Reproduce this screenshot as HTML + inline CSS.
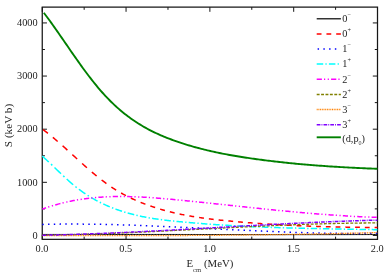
<!DOCTYPE html><html><head><meta charset="utf-8"><style>html,body{margin:0;padding:0;background:#fff}svg{display:block;will-change:transform}.t{font-family:"Liberation Serif",serif}</style></head><body><svg width="389" height="275" viewBox="0 0 389 275">
<g stroke="#161616" stroke-width="1.25" fill="none">
<rect x="42.25" y="7.12" width="335.25" height="232.23"/>
<path d="M42.25,239.35v-4.70M42.25,7.12v4.70M84.16,239.35v-2.70M84.16,7.12v2.70M126.06,239.35v-4.70M126.06,7.12v4.70M167.97,239.35v-2.70M167.97,7.12v2.70M209.88,239.35v-4.70M209.88,7.12v4.70M251.78,239.35v-2.70M251.78,7.12v2.70M293.69,239.35v-4.70M293.69,7.12v4.70M335.59,239.35v-2.70M335.59,7.12v2.70M377.50,239.35v-4.70M377.50,7.12v4.70M42.25,235.45h4.70M377.50,235.45h-4.70M42.25,208.88h2.70M377.50,208.88h-2.70M42.25,182.32h4.70M377.50,182.32h-4.70M42.25,155.75h2.70M377.50,155.75h-2.70M42.25,129.19h4.70M377.50,129.19h-4.70M42.25,102.62h2.70M377.50,102.62h-2.70M42.25,76.06h4.70M377.50,76.06h-4.70M42.25,49.50h2.70M377.50,49.50h-2.70M42.25,22.93h4.70M377.50,22.93h-4.70" stroke-width="1.0"/>
</g>
<g fill="none" stroke-linecap="butt" stroke-linejoin="round">
<path d="M42.30,234.45 L43.80,234.45 L45.30,234.45 L46.80,234.45 L48.30,234.45 L49.80,234.45 L51.30,234.45 L52.80,234.45 L54.30,234.45 L55.80,234.45 L57.30,234.45 L58.80,234.45 L60.30,234.45 L61.80,234.45 L63.30,234.45 L64.80,234.45 L66.30,234.45 L67.80,234.45 L69.30,234.45 L70.80,234.45 L72.30,234.45 L73.80,234.45 L75.30,234.45 L76.80,234.45 L78.30,234.45 L79.80,234.45 L81.30,234.45 L82.80,234.45 L84.30,234.45 L85.80,234.45 L87.30,234.45 L88.80,234.45 L90.30,234.45 L91.80,234.45 L93.30,234.45 L94.80,234.45 L96.30,234.45 L97.80,234.45 L99.30,234.45 L100.80,234.45 L102.30,234.45 L103.80,234.45 L105.30,234.45 L106.80,234.45 L108.30,234.45 L109.80,234.45 L111.30,234.45 L112.80,234.45 L114.30,234.45 L115.80,234.45 L117.30,234.45 L118.80,234.45 L120.30,234.45 L121.80,234.45 L123.30,234.45 L124.80,234.45 L126.30,234.45 L127.80,234.45 L129.30,234.45 L130.80,234.45 L132.30,234.45 L133.80,234.45 L135.30,234.45 L136.80,234.45 L138.30,234.45 L139.80,234.45 L141.30,234.45 L142.80,234.45 L144.30,234.45 L145.80,234.45 L147.30,234.45 L148.80,234.45 L150.30,234.45 L151.80,234.45 L153.30,234.45 L154.80,234.45 L156.30,234.45 L157.80,234.45 L159.30,234.45 L160.80,234.45 L162.30,234.45 L163.80,234.45 L165.30,234.45 L166.80,234.45 L168.30,234.45 L169.80,234.45 L171.30,234.45 L172.80,234.46 L174.30,234.46 L175.80,234.46 L177.30,234.46 L178.80,234.46 L180.30,234.46 L181.80,234.46 L183.30,234.47 L184.80,234.47 L186.30,234.47 L187.80,234.47 L189.30,234.47 L190.80,234.48 L192.30,234.48 L193.80,234.48 L195.30,234.48 L196.80,234.49 L198.30,234.49 L199.80,234.49 L201.30,234.50 L202.80,234.50 L204.30,234.50 L205.80,234.50 L207.30,234.51 L208.80,234.51 L210.30,234.51 L211.80,234.52 L213.30,234.52 L214.80,234.52 L216.30,234.53 L217.80,234.53 L219.30,234.53 L220.80,234.54 L222.30,234.54 L223.80,234.54 L225.30,234.55 L226.80,234.55 L228.30,234.55 L229.80,234.56 L231.30,234.56 L232.80,234.56 L234.30,234.57 L235.80,234.57 L237.30,234.57 L238.80,234.58 L240.30,234.58 L241.80,234.58 L243.30,234.59 L244.80,234.59 L246.30,234.59 L247.80,234.60 L249.30,234.60 L250.80,234.60 L252.30,234.60 L253.80,234.61 L255.30,234.61 L256.80,234.61 L258.30,234.61 L259.80,234.62 L261.30,234.62 L262.80,234.62 L264.30,234.62 L265.80,234.63 L267.30,234.63 L268.80,234.63 L270.30,234.63 L271.80,234.64 L273.30,234.64 L274.80,234.64 L276.30,234.64 L277.80,234.64 L279.30,234.64 L280.80,234.64 L282.30,234.65 L283.80,234.65 L285.30,234.65 L286.80,234.65 L288.30,234.65 L289.80,234.65 L291.30,234.65 L292.80,234.65 L294.30,234.65 L295.80,234.65 L297.30,234.65 L298.80,234.65 L300.30,234.65 L301.80,234.65 L303.30,234.65 L304.80,234.65 L306.30,234.65 L307.80,234.65 L309.30,234.65 L310.80,234.65 L312.30,234.64 L313.80,234.64 L315.30,234.64 L316.80,234.64 L318.30,234.64 L319.80,234.64 L321.30,234.64 L322.80,234.64 L324.30,234.64 L325.80,234.63 L327.30,234.63 L328.80,234.63 L330.30,234.63 L331.80,234.63 L333.30,234.63 L334.80,234.62 L336.30,234.62 L337.80,234.62 L339.30,234.62 L340.80,234.62 L342.30,234.61 L343.80,234.61 L345.30,234.61 L346.80,234.61 L348.30,234.61 L349.80,234.60 L351.30,234.60 L352.80,234.60 L354.30,234.60 L355.80,234.59 L357.30,234.59 L358.80,234.59 L360.30,234.59 L361.80,234.58 L363.30,234.58 L364.80,234.58 L366.30,234.57 L367.80,234.57 L369.30,234.57 L370.80,234.56 L372.30,234.56 L373.80,234.56 L375.30,234.55 L376.80,234.55 L377.40,234.55" stroke="#000000" stroke-width="1.00"/>
<path d="M43.10,129.70 L44.05,130.41 L45.05,131.17 L46.05,131.93 L47.05,132.71 L47.90,133.38M52.85,137.39 L53.80,138.18 L54.80,139.02 L55.80,139.87 L56.80,140.72 L57.65,141.46M62.60,145.79 L63.55,146.64 L64.55,147.53 L65.55,148.43 L66.55,149.33 L67.40,150.10M72.35,154.59 L73.30,155.46 L74.30,156.37 L75.30,157.28 L76.30,158.19 L77.15,158.96M82.10,163.44 L83.05,164.30 L84.05,165.19 L85.05,166.08 L86.05,166.97 L86.90,167.72M91.85,172.02 L92.80,172.83 L93.80,173.67 L94.80,174.51 L95.80,175.34 L96.65,176.04M101.60,179.98 L102.55,180.71 L103.55,181.47 L104.55,182.22 L105.55,182.96 L106.40,183.58M111.35,187.01 L112.30,187.64 L113.30,188.29 L114.30,188.92 L115.30,189.55 L116.15,190.08M121.10,192.99 L122.05,193.52 L123.05,194.07 L124.05,194.61 L125.05,195.14 L125.90,195.58M130.85,198.04 L131.80,198.49 L132.80,198.96 L133.80,199.41 L134.80,199.86 L135.65,200.24M140.60,202.32 L141.55,202.71 L142.55,203.10 L143.55,203.49 L144.55,203.87 L145.40,204.19M150.35,205.98 L151.30,206.30 L152.30,206.64 L153.30,206.98 L154.30,207.30 L155.15,207.58M160.10,209.11 L161.05,209.38 L162.05,209.67 L163.05,209.96 L164.05,210.24 L164.90,210.47M169.85,211.77 L170.80,212.00 L171.80,212.25 L172.80,212.49 L173.80,212.72 L174.65,212.92M179.60,214.01 L180.55,214.21 L181.55,214.42 L182.55,214.62 L183.55,214.82 L184.40,214.98M189.35,215.90 L190.30,216.07 L191.30,216.24 L192.30,216.41 L193.30,216.58 L194.15,216.71M199.10,217.48 L200.05,217.62 L201.05,217.77 L202.05,217.91 L203.05,218.05 L203.90,218.16M208.85,218.81 L209.80,218.93 L210.80,219.05 L211.80,219.17 L212.80,219.29 L213.65,219.39M218.60,219.94 L219.55,220.04 L220.55,220.15 L221.55,220.25 L222.55,220.35 L223.40,220.44M228.35,220.93 L229.30,221.02 L230.30,221.11 L231.30,221.20 L232.30,221.30 L233.15,221.38M238.10,221.82 L239.05,221.90 L240.05,221.99 L241.05,222.07 L242.05,222.15 L242.90,222.23M247.85,222.63 L248.80,222.70 L249.80,222.78 L250.80,222.86 L251.80,222.94 L252.65,223.00M257.60,223.36 L258.55,223.43 L259.55,223.50 L260.55,223.57 L261.55,223.64 L262.40,223.70M267.35,224.03 L268.30,224.09 L269.30,224.15 L270.30,224.21 L271.30,224.28 L272.15,224.33M277.10,224.62 L278.05,224.67 L279.05,224.73 L280.05,224.79 L281.05,224.84 L281.90,224.89M286.85,225.15 L287.80,225.20 L288.80,225.25 L289.80,225.30 L290.80,225.34 L291.65,225.39M296.60,225.61 L297.55,225.66 L298.55,225.70 L299.55,225.74 L300.55,225.79 L301.40,225.82M306.35,226.02 L307.30,226.06 L308.30,226.09 L309.30,226.13 L310.30,226.17 L311.15,226.20M316.10,226.37 L317.05,226.40 L318.05,226.43 L319.05,226.47 L320.05,226.50 L320.90,226.52M325.85,226.67 L326.80,226.69 L327.80,226.72 L328.80,226.75 L329.80,226.77 L330.65,226.80M335.60,226.92 L336.55,226.94 L337.55,226.96 L338.55,226.98 L339.55,227.00 L340.40,227.02M345.35,227.12 L346.30,227.14 L347.30,227.15 L348.30,227.17 L349.30,227.19 L350.15,227.20M355.10,227.28 L356.05,227.29 L357.05,227.30 L358.05,227.32 L359.05,227.33 L359.90,227.34M364.85,227.40 L365.80,227.41 L366.80,227.42 L367.80,227.42 L368.80,227.43 L369.65,227.44M374.60,227.48 L375.55,227.49 L376.55,227.49 L377.40,227.50" stroke="#ff0000" stroke-width="1.50"/>
<path d="M42.30,224.40 L43.30,224.38 L43.75,224.37M48.05,224.28 L49.05,224.27 L49.50,224.26M53.80,224.19 L54.80,224.18 L55.25,224.18M59.55,224.13 L60.55,224.12 L61.00,224.12M65.30,224.09 L66.30,224.09 L66.75,224.09M71.05,224.08 L72.05,224.08 L72.50,224.08M76.80,224.09 L77.80,224.09 L78.25,224.10M82.55,224.12 L83.55,224.13 L84.00,224.13M88.30,224.18 L89.30,224.19 L89.75,224.19M94.05,224.25 L95.05,224.26 L95.50,224.27M99.80,224.34 L100.80,224.36 L101.25,224.37M105.55,224.46 L106.55,224.48 L107.00,224.49M111.30,224.59 L112.30,224.61 L112.75,224.62M117.05,224.73 L118.05,224.76 L118.50,224.77M122.80,224.90 L123.80,224.93 L124.25,224.94M128.55,225.08 L129.30,225.10 L130.00,225.12M134.30,225.27 L135.05,225.29 L135.75,225.32M140.05,225.47 L140.80,225.50 L141.50,225.53M145.80,225.69 L146.55,225.72 L147.25,225.75M151.55,225.92 L152.30,225.95 L153.00,225.98M157.30,226.15 L158.05,226.19 L158.75,226.22M163.05,226.40 L163.80,226.43 L164.50,226.47M168.80,226.66 L169.55,226.69 L170.25,226.72M174.55,226.92 L175.55,226.97 L176.00,226.99M180.30,227.19 L181.30,227.24 L181.75,227.26M186.05,227.46 L187.05,227.51 L187.50,227.53M191.80,227.74 L192.80,227.79 L193.25,227.81M197.55,228.02 L198.55,228.07 L199.00,228.09M203.30,228.31 L204.30,228.36 L204.75,228.38M209.05,228.59 L210.05,228.64 L210.50,228.67M214.80,228.88 L215.80,228.93 L216.25,228.95M220.55,229.16 L221.55,229.21 L222.00,229.24M226.30,229.45 L227.30,229.50 L227.75,229.52M232.05,229.73 L233.05,229.78 L233.50,229.80M237.80,230.01 L238.80,230.06 L239.25,230.08M243.55,230.28 L244.55,230.33 L245.00,230.35M249.30,230.55 L250.30,230.60 L250.75,230.62M255.05,230.82 L256.05,230.86 L256.50,230.88M260.80,231.07 L261.80,231.12 L262.25,231.14M266.55,231.32 L267.55,231.36 L268.00,231.38M272.30,231.56 L273.30,231.60 L273.75,231.62M278.05,231.79 L279.05,231.83 L279.50,231.84M283.80,232.01 L284.80,232.04 L285.25,232.06M289.55,232.21 L290.55,232.25 L291.00,232.26M295.30,232.41 L296.30,232.44 L296.75,232.45M301.05,232.58 L302.05,232.61 L302.50,232.63M306.80,232.75 L307.80,232.78 L308.25,232.79M312.55,232.90 L313.55,232.92 L314.00,232.93M318.30,233.03 L319.30,233.05 L319.75,233.06M324.05,233.14 L325.05,233.16 L325.50,233.17M329.80,233.24 L330.80,233.26 L331.25,233.26M335.55,233.32 L336.55,233.33 L337.00,233.33M341.30,233.37 L342.30,233.38 L342.75,233.38M347.05,233.41 L348.05,233.41 L348.50,233.41M352.80,233.42 L353.80,233.42 L354.25,233.42M358.55,233.41 L359.55,233.40 L360.00,233.40M364.30,233.37 L365.30,233.36 L365.75,233.36M370.05,233.31 L371.05,233.30 L371.50,233.29M375.80,233.22 L376.80,233.20 L377.25,233.20" stroke="#0000ff" stroke-width="1.50"/>
<path d="M42.30,156.17 L43.30,157.05 L44.30,157.94 L45.30,158.85 L46.30,159.76 L47.30,160.68 L48.30,161.61 L48.80,162.07M51.00,164.15 L51.80,164.91 L52.30,165.38M54.50,167.49 L55.30,168.26 L56.30,169.22 L57.30,170.18 L58.30,171.14 L59.30,172.09 L60.30,173.05 L61.00,173.72M63.20,175.80 L64.05,176.59 L64.50,177.01M66.70,179.04 L67.55,179.81 L68.55,180.71 L69.55,181.60 L70.55,182.48 L71.55,183.34 L72.55,184.20 L73.20,184.74M75.40,186.54 L76.30,187.26 L76.70,187.57M78.90,189.26 L79.80,189.94 L80.80,190.67 L81.80,191.39 L82.80,192.10 L83.80,192.79 L84.80,193.47 L85.40,193.87M87.60,195.31 L88.55,195.91 L88.90,196.13M91.10,197.48 L92.05,198.04 L93.05,198.62 L94.05,199.19 L95.05,199.75 L96.05,200.30 L97.05,200.83 L97.60,201.13M99.80,202.26 L100.80,202.76 L101.10,202.90M103.30,203.96 L104.30,204.43 L105.30,204.88 L106.30,205.33 L107.30,205.77 L108.30,206.19 L109.30,206.61 L109.80,206.82M112.00,207.71 L112.80,208.02 L113.30,208.22M115.50,209.04 L116.30,209.34 L117.30,209.69 L118.30,210.04 L119.30,210.39 L120.30,210.72 L121.30,211.05 L122.00,211.28M124.20,211.97 L125.05,212.23 L125.50,212.37M127.70,213.01 L128.55,213.25 L129.55,213.52 L130.55,213.79 L131.55,214.06 L132.55,214.31 L133.55,214.57 L134.20,214.73M136.40,215.26 L137.30,215.46 L137.70,215.56M139.90,216.04 L140.80,216.23 L141.80,216.44 L142.80,216.65 L143.80,216.85 L144.80,217.04 L145.80,217.23 L146.40,217.34M148.60,217.74 L149.55,217.91 L149.90,217.97M152.10,218.33 L153.05,218.48 L154.05,218.64 L155.05,218.79 L156.05,218.94 L157.05,219.09 L158.05,219.23 L158.60,219.31M160.80,219.61 L161.80,219.74 L162.10,219.78M164.30,220.06 L165.30,220.18 L166.30,220.30 L167.30,220.41 L168.30,220.53 L169.30,220.64 L170.30,220.75 L170.80,220.81M173.00,221.04 L173.80,221.12 L174.30,221.18M176.50,221.40 L177.30,221.48 L178.30,221.57 L179.30,221.67 L180.30,221.76 L181.30,221.86 L182.30,221.95 L183.00,222.02M185.20,222.22 L186.05,222.29 L186.50,222.33M188.70,222.53 L189.55,222.60 L190.55,222.69 L191.55,222.78 L192.55,222.86 L193.55,222.94 L194.55,223.03 L195.20,223.08M197.40,223.26 L198.30,223.33 L198.70,223.36M200.90,223.54 L201.80,223.61 L202.80,223.68 L203.80,223.76 L204.80,223.83 L205.80,223.91 L206.80,223.98 L207.40,224.02M209.60,224.18 L210.55,224.25 L210.90,224.27M213.10,224.43 L214.05,224.49 L215.05,224.56 L216.05,224.63 L217.05,224.69 L218.05,224.76 L219.05,224.82 L219.60,224.86M221.80,225.00 L222.55,225.04 L223.10,225.08M225.30,225.21 L226.05,225.26 L227.05,225.32 L228.05,225.37 L229.05,225.43 L230.05,225.49 L231.05,225.55 L231.80,225.59M234.00,225.71 L234.80,225.75 L235.30,225.78M237.50,225.90 L238.30,225.94 L239.30,225.99 L240.30,226.04 L241.30,226.09 L242.30,226.14 L243.30,226.19 L244.00,226.23M246.20,226.33 L247.05,226.37 L247.50,226.40M249.70,226.50 L250.55,226.54 L251.55,226.58 L252.55,226.63 L253.55,226.67 L254.55,226.71 L255.55,226.76 L256.20,226.78M258.40,226.88 L259.30,226.91 L259.70,226.93M261.90,227.02 L262.80,227.05 L263.80,227.09 L264.80,227.13 L265.80,227.17 L266.80,227.21 L267.80,227.24 L268.40,227.27M270.60,227.34 L271.55,227.38 L271.90,227.39M274.10,227.47 L275.05,227.50 L276.05,227.53 L277.05,227.57 L278.05,227.60 L279.05,227.63 L280.05,227.66 L280.60,227.68M282.80,227.75 L283.55,227.77 L284.10,227.79M286.30,227.85 L287.05,227.88 L288.05,227.91 L289.05,227.93 L290.05,227.96 L291.05,227.99 L292.05,228.02 L292.80,228.04M295.00,228.10 L295.80,228.12 L296.30,228.13M298.50,228.19 L299.30,228.21 L300.30,228.24 L301.30,228.26 L302.30,228.29 L303.30,228.31 L304.30,228.33 L305.00,228.35M307.20,228.40 L308.05,228.42 L308.50,228.43M310.70,228.48 L311.55,228.50 L312.55,228.52 L313.55,228.54 L314.55,228.57 L315.55,228.59 L316.55,228.61 L317.20,228.62M319.40,228.67 L320.30,228.69 L320.70,228.69M322.90,228.74 L323.80,228.76 L324.80,228.78 L325.80,228.80 L326.80,228.81 L327.80,228.83 L328.80,228.85 L329.40,228.86M331.60,228.91 L332.55,228.92 L332.90,228.93M335.10,228.97 L336.05,228.99 L337.05,229.00 L338.05,229.02 L339.05,229.04 L340.05,229.06 L341.05,229.08 L341.60,229.09M343.80,229.12 L344.55,229.14 L345.10,229.15M347.30,229.18 L348.05,229.20 L349.05,229.21 L350.05,229.23 L351.05,229.25 L352.05,229.26 L353.05,229.28 L353.80,229.29M356.00,229.33 L356.80,229.34 L357.30,229.35M359.50,229.39 L360.30,229.40 L361.30,229.42 L362.30,229.44 L363.30,229.45 L364.30,229.47 L365.30,229.49 L366.00,229.50M368.20,229.54 L369.05,229.55 L369.50,229.56M371.70,229.60 L372.55,229.61 L373.55,229.63 L374.55,229.65 L375.55,229.66 L376.55,229.68 L377.40,229.70" stroke="#00ffff" stroke-width="1.50"/>
<path d="M42.30,209.12 L43.30,208.75 L44.30,208.40 L45.30,208.05 L46.05,207.79M48.15,207.09 L49.05,206.80 L49.35,206.70M51.85,205.92 L52.80,205.63 L53.05,205.56M55.23,204.92 L56.05,204.69 L57.05,204.41 L58.05,204.13 L59.05,203.87 L60.05,203.61 L60.43,203.51M62.53,202.98 L63.30,202.79 L63.73,202.69M66.23,202.11 L67.05,201.93 L67.43,201.84M69.61,201.38 L70.55,201.18 L71.55,200.98 L72.55,200.79 L73.55,200.60 L74.55,200.41 L74.81,200.37M76.91,199.99 L77.80,199.84 L78.11,199.79M80.61,199.39 L81.55,199.25 L81.81,199.21M83.99,198.90 L84.80,198.79 L85.80,198.66 L86.80,198.53 L87.80,198.40 L88.80,198.29 L89.19,198.24M91.29,198.01 L92.05,197.93 L92.49,197.88M94.99,197.64 L95.80,197.57 L96.19,197.54M98.37,197.36 L99.30,197.29 L100.30,197.21 L101.30,197.15 L102.30,197.08 L103.30,197.02 L103.57,197.00M105.67,196.89 L106.55,196.85 L106.87,196.83M109.37,196.73 L110.30,196.70 L110.57,196.69M112.75,196.62 L113.55,196.60 L114.55,196.58 L115.55,196.56 L116.55,196.55 L117.55,196.53 L117.95,196.53M120.05,196.52 L121.05,196.52 L121.25,196.52M123.75,196.53 L124.55,196.53 L124.95,196.54M127.13,196.57 L128.05,196.58 L129.05,196.60 L130.05,196.63 L131.05,196.65 L132.05,196.68 L132.33,196.69M134.43,196.76 L135.30,196.79 L135.63,196.80M138.13,196.91 L139.05,196.95 L139.33,196.96M141.51,197.07 L142.30,197.11 L143.30,197.16 L144.30,197.21 L145.30,197.27 L146.30,197.33 L146.71,197.36M148.81,197.49 L149.80,197.55 L150.01,197.57M152.51,197.74 L153.30,197.80 L153.71,197.83M155.89,197.99 L156.80,198.06 L157.80,198.14 L158.80,198.21 L159.80,198.30 L160.80,198.38 L161.09,198.40M163.19,198.58 L164.05,198.65 L164.39,198.68M166.89,198.90 L167.80,198.98 L168.09,199.01M170.27,199.21 L171.05,199.28 L172.05,199.37 L173.05,199.47 L174.05,199.56 L175.05,199.66 L175.47,199.70M177.57,199.90 L178.55,200.00 L178.77,200.02M181.27,200.26 L182.05,200.34 L182.47,200.38M184.65,200.60 L185.55,200.69 L186.55,200.79 L187.55,200.89 L188.55,200.99 L189.55,201.09 L189.85,201.12M191.95,201.33 L192.80,201.42 L193.15,201.46M195.65,201.71 L196.55,201.81 L196.85,201.84M199.03,202.06 L199.80,202.14 L200.80,202.25 L201.80,202.35 L202.80,202.45 L203.80,202.56 L204.23,202.60M206.33,202.82 L207.30,202.93 L207.53,202.95M210.03,203.21 L210.80,203.30 L211.23,203.34M213.41,203.57 L214.30,203.67 L215.30,203.77 L216.30,203.88 L217.30,203.99 L218.30,204.09 L218.61,204.13M220.71,204.35 L221.55,204.44 L221.91,204.48M224.41,204.75 L225.30,204.84 L225.61,204.87M227.79,205.11 L228.55,205.19 L229.55,205.30 L230.55,205.40 L231.55,205.51 L232.55,205.62 L232.99,205.66M235.09,205.89 L236.05,205.99 L236.29,206.02M238.79,206.28 L239.55,206.37 L239.99,206.41M242.17,206.64 L243.05,206.74 L244.05,206.84 L245.05,206.95 L246.05,207.06 L247.05,207.16 L247.37,207.20M249.47,207.42 L250.30,207.51 L250.67,207.55M253.17,207.81 L254.05,207.90 L254.37,207.94M256.55,208.16 L257.30,208.24 L258.30,208.35 L259.30,208.45 L260.30,208.56 L261.30,208.66 L261.75,208.71M263.85,208.92 L264.80,209.02 L265.05,209.05M267.55,209.30 L268.30,209.38 L268.75,209.43M270.93,209.65 L271.80,209.73 L272.80,209.84 L273.80,209.94 L274.80,210.04 L275.80,210.14 L276.13,210.17M278.23,210.38 L279.05,210.46 L279.43,210.50M281.93,210.74 L282.80,210.83 L283.13,210.86M285.31,211.07 L286.30,211.16 L287.30,211.26 L288.30,211.36 L289.30,211.45 L290.30,211.55 L290.51,211.57M292.61,211.76 L293.55,211.85 L293.81,211.87M296.31,212.10 L297.30,212.20 L297.51,212.21M299.69,212.41 L300.55,212.49 L301.55,212.58 L302.55,212.67 L303.55,212.76 L304.55,212.84 L304.89,212.87M306.99,213.06 L307.80,213.13 L308.19,213.16M310.69,213.37 L311.55,213.44 L311.89,213.47M314.07,213.65 L315.05,213.73 L316.05,213.81 L317.05,213.90 L318.05,213.98 L319.05,214.06 L319.27,214.07M321.37,214.24 L322.30,214.31 L322.57,214.33M325.07,214.52 L326.05,214.59 L326.27,214.61M328.45,214.77 L329.30,214.83 L330.30,214.91 L331.30,214.98 L332.30,215.05 L333.30,215.12 L333.65,215.14M335.75,215.29 L336.55,215.34 L336.95,215.37M339.45,215.53 L340.30,215.59 L340.65,215.61M342.83,215.75 L343.80,215.81 L344.80,215.87 L345.80,215.93 L346.80,215.99 L347.80,216.05 L348.03,216.06M350.13,216.18 L351.05,216.23 L351.33,216.25M353.83,216.38 L354.80,216.44 L355.03,216.45M357.21,216.56 L358.05,216.60 L359.05,216.65 L360.05,216.70 L361.05,216.75 L362.05,216.79 L362.41,216.81M364.51,216.90 L365.30,216.94 L365.71,216.95M368.21,217.06 L369.05,217.09 L369.41,217.10M371.59,217.19 L372.55,217.22 L373.55,217.26 L374.55,217.29 L375.55,217.32 L376.55,217.36 L376.79,217.36" stroke="#ff00ff" stroke-width="1.50"/>
<path d="M42.30,235.22 L43.30,235.21 L44.30,235.19 L45.20,235.18M46.70,235.16 L47.55,235.15 L48.55,235.14 L49.55,235.12 L49.60,235.12M51.10,235.10 L52.05,235.08 L53.05,235.07 L54.00,235.05M55.50,235.02 L56.30,235.01 L57.30,234.99 L58.30,234.97 L58.40,234.97M59.90,234.94 L60.80,234.92 L61.80,234.90 L62.80,234.88M64.30,234.85 L65.30,234.83 L66.30,234.81 L67.20,234.78M68.70,234.75 L69.55,234.73 L70.55,234.70 L71.55,234.68 L71.60,234.68M73.10,234.64 L74.05,234.62 L75.05,234.59 L76.00,234.57M77.50,234.53 L78.30,234.50 L79.30,234.48 L80.30,234.45 L80.40,234.44M81.90,234.40 L82.80,234.37 L83.80,234.35 L84.80,234.32M86.30,234.27 L87.05,234.25 L88.05,234.22 L89.05,234.18 L89.20,234.18M90.70,234.13 L91.55,234.10 L92.55,234.07 L93.55,234.04 L93.60,234.04M95.10,233.99 L96.05,233.95 L97.05,233.92 L98.00,233.89M99.50,233.83 L100.30,233.81 L101.30,233.77 L102.30,233.74 L102.40,233.73M103.90,233.68 L104.80,233.64 L105.80,233.61 L106.80,233.57M108.30,233.51 L109.05,233.48 L110.05,233.45 L111.05,233.41 L111.20,233.40M112.70,233.34 L113.55,233.31 L114.55,233.27 L115.55,233.23 L115.60,233.23M117.10,233.17 L118.05,233.13 L119.05,233.09 L120.00,233.05M121.50,232.99 L122.30,232.95 L123.30,232.91 L124.30,232.87 L124.40,232.87M125.90,232.80 L126.80,232.76 L127.80,232.72 L128.80,232.68M130.30,232.61 L131.30,232.57 L132.30,232.52 L133.20,232.48M134.70,232.42 L135.55,232.38 L136.55,232.33 L137.55,232.29 L137.60,232.29M139.10,232.22 L140.05,232.18 L141.05,232.13 L142.00,232.09M143.50,232.02 L144.30,231.98 L145.30,231.93 L146.30,231.89 L146.40,231.88M147.90,231.81 L148.80,231.77 L149.80,231.72 L150.80,231.67 L150.80,231.67M152.30,231.60 L153.30,231.55 L154.30,231.51 L155.20,231.46M156.70,231.39 L157.55,231.35 L158.55,231.30 L159.55,231.25 L159.60,231.25M161.10,231.17 L162.05,231.13 L163.05,231.08 L164.00,231.03M165.50,230.96 L166.30,230.92 L167.30,230.87 L168.30,230.82 L168.40,230.81M169.90,230.74 L170.80,230.69 L171.80,230.64 L172.80,230.59 L172.80,230.59M174.30,230.52 L175.30,230.46 L176.30,230.41 L177.20,230.37M178.70,230.29 L179.55,230.25 L180.55,230.20 L181.55,230.15 L181.60,230.14M183.10,230.07 L184.05,230.02 L185.05,229.97 L186.00,229.92M187.50,229.84 L188.30,229.80 L189.30,229.75 L190.30,229.70 L190.40,229.69M191.90,229.61 L192.80,229.57 L193.80,229.52 L194.80,229.46 L194.80,229.46M196.30,229.39 L197.30,229.34 L198.30,229.28 L199.20,229.24M200.70,229.16 L201.55,229.12 L202.55,229.06 L203.55,229.01 L203.60,229.01M205.10,228.93 L206.05,228.88 L207.05,228.83 L208.00,228.78M209.50,228.70 L210.30,228.66 L211.30,228.61 L212.30,228.56 L212.40,228.55M213.90,228.48 L214.80,228.43 L215.80,228.38 L216.80,228.33 L216.80,228.33M218.30,228.25 L219.30,228.20 L220.30,228.15 L221.20,228.10M222.70,228.03 L223.55,227.98 L224.55,227.93 L225.55,227.88 L225.60,227.88M227.10,227.80 L228.05,227.75 L229.05,227.70 L230.00,227.66M231.50,227.58 L232.30,227.54 L233.30,227.49 L234.30,227.44 L234.40,227.43M235.90,227.36 L236.80,227.32 L237.80,227.27 L238.80,227.22 L238.80,227.22M240.30,227.14 L241.30,227.09 L242.30,227.04 L243.20,227.00M244.70,226.93 L245.55,226.88 L246.55,226.84 L247.55,226.79 L247.60,226.78M249.10,226.71 L250.05,226.67 L251.05,226.62 L252.00,226.57M253.50,226.50 L254.30,226.46 L255.30,226.42 L256.30,226.37 L256.40,226.37M257.90,226.30 L258.80,226.25 L259.80,226.21 L260.80,226.16 L260.80,226.16M262.30,226.09 L263.30,226.05 L264.30,226.00 L265.20,225.96M266.70,225.89 L267.55,225.85 L268.55,225.81 L269.55,225.76 L269.60,225.76M271.10,225.70 L272.05,225.65 L273.05,225.61 L274.00,225.57M275.50,225.50 L276.30,225.47 L277.30,225.43 L278.30,225.39 L278.40,225.38M279.90,225.32 L280.80,225.28 L281.80,225.24 L282.80,225.20 L282.80,225.20M284.30,225.14 L285.30,225.10 L286.30,225.05 L287.20,225.02M288.70,224.96 L289.55,224.93 L290.55,224.89 L291.55,224.85 L291.60,224.85M293.10,224.79 L294.05,224.75 L295.05,224.71 L296.00,224.68M297.50,224.62 L298.30,224.59 L299.30,224.56 L300.30,224.52 L300.40,224.52M301.90,224.46 L302.80,224.43 L303.80,224.39 L304.80,224.36 L304.80,224.36M306.30,224.31 L307.30,224.27 L308.30,224.24 L309.20,224.21M310.70,224.16 L311.55,224.13 L312.55,224.10 L313.55,224.07 L313.60,224.07M315.10,224.02 L316.05,223.99 L317.05,223.96 L318.00,223.93M319.50,223.89 L320.30,223.86 L321.30,223.83 L322.30,223.81 L322.40,223.80M323.90,223.76 L324.80,223.74 L325.80,223.71 L326.80,223.68 L326.80,223.68M328.30,223.64 L329.30,223.62 L330.30,223.59 L331.20,223.57M332.70,223.53 L333.55,223.51 L334.55,223.49 L335.55,223.46 L335.60,223.46M337.10,223.43 L338.05,223.41 L339.05,223.39 L340.00,223.37M341.50,223.33 L342.30,223.32 L343.30,223.30 L344.30,223.28 L344.40,223.28M345.90,223.25 L346.80,223.23 L347.80,223.21 L348.80,223.20M350.30,223.17 L351.05,223.16 L352.05,223.14 L353.05,223.13 L353.20,223.13M354.70,223.10 L355.55,223.09 L356.55,223.08 L357.55,223.07 L357.60,223.06M359.10,223.05 L360.05,223.03 L361.05,223.02 L362.00,223.01M363.50,223.00 L364.30,222.99 L365.30,222.98 L366.30,222.97 L366.40,222.97M367.90,222.96 L368.80,222.95 L369.80,222.95 L370.80,222.94M372.30,222.93 L373.05,222.93 L374.05,222.92 L375.05,222.92 L375.20,222.92M376.70,222.91 L377.40,222.91" stroke="#808000" stroke-width="1.30"/>
<path d="M42.30,235.60 L43.30,235.60M44.00,235.60 L44.80,235.61 L45.00,235.61M45.70,235.61 L46.55,235.61 L46.70,235.61M47.40,235.61 L48.30,235.62 L48.40,235.62M49.10,235.62 L50.05,235.62 L50.10,235.62M50.80,235.62 L51.80,235.63M52.50,235.63 L53.30,235.63 L53.50,235.63M54.20,235.63 L55.05,235.63 L55.20,235.63M55.90,235.64 L56.80,235.64 L56.90,235.64M57.60,235.64 L58.55,235.64 L58.60,235.64M59.30,235.64 L60.05,235.65 L60.30,235.65M61.00,235.65 L61.80,235.65 L62.00,235.65M62.70,235.65 L63.55,235.65 L63.70,235.65M64.40,235.66 L65.30,235.66 L65.40,235.66M66.10,235.66 L67.05,235.66 L67.10,235.66M67.80,235.66 L68.55,235.66 L68.80,235.66M69.50,235.67 L70.30,235.67 L70.50,235.67M71.20,235.67 L72.05,235.67 L72.20,235.67M72.90,235.67 L73.80,235.67 L73.90,235.67M74.60,235.67 L75.55,235.68 L75.60,235.68M76.30,235.68 L77.05,235.68 L77.30,235.68M78.00,235.68 L78.80,235.68 L79.00,235.68M79.70,235.68 L80.55,235.68 L80.70,235.68M81.40,235.68 L82.30,235.69 L82.40,235.69M83.10,235.69 L84.05,235.69 L84.10,235.69M84.80,235.69 L85.80,235.69 L85.80,235.69M86.50,235.69 L87.30,235.69 L87.50,235.69M88.20,235.69 L89.05,235.69 L89.20,235.69M89.90,235.69 L90.80,235.69 L90.90,235.69M91.60,235.69 L92.55,235.70 L92.60,235.70M93.30,235.70 L94.30,235.70 L94.30,235.70M95.00,235.70 L95.80,235.70 L96.00,235.70M96.70,235.70 L97.55,235.70 L97.70,235.70M98.40,235.70 L99.30,235.70 L99.40,235.70M100.10,235.70 L101.05,235.70 L101.10,235.70M101.80,235.70 L102.80,235.70 L102.80,235.70M103.50,235.70 L104.30,235.70 L104.50,235.70M105.20,235.70 L106.05,235.70 L106.20,235.70M106.90,235.70 L107.80,235.70 L107.90,235.70M108.60,235.70 L109.55,235.70 L109.60,235.70M110.30,235.70 L111.30,235.70 L111.30,235.70M112.00,235.70 L112.80,235.70 L113.00,235.70M113.70,235.70 L114.55,235.70 L114.70,235.70M115.40,235.70 L116.30,235.70 L116.40,235.70M117.10,235.70 L118.05,235.70 L118.10,235.69M118.80,235.69 L119.80,235.69 L119.80,235.69M120.50,235.69 L121.30,235.69 L121.50,235.69M122.20,235.69 L123.05,235.69 L123.20,235.69M123.90,235.69 L124.80,235.69 L124.90,235.69M125.60,235.69 L126.55,235.69 L126.60,235.69M127.30,235.69 L128.30,235.68 L128.30,235.68M129.00,235.68 L129.80,235.68 L130.00,235.68M130.70,235.68 L131.55,235.68 L131.70,235.68M132.40,235.68 L133.30,235.68 L133.40,235.68M134.10,235.67 L135.05,235.67 L135.10,235.67M135.80,235.67 L136.80,235.67 L136.80,235.67M137.50,235.67 L138.30,235.67 L138.50,235.67M139.20,235.66 L140.05,235.66 L140.20,235.66M140.90,235.66 L141.80,235.66 L141.90,235.66M142.60,235.66 L143.55,235.65 L143.60,235.65M144.30,235.65 L145.30,235.65 L145.30,235.65M146.00,235.65 L146.80,235.65 L147.00,235.65M147.70,235.64 L148.55,235.64 L148.70,235.64M149.40,235.64 L150.30,235.64 L150.40,235.64M151.10,235.63 L152.05,235.63 L152.10,235.63M152.80,235.63 L153.80,235.63 L153.80,235.63M154.50,235.62 L155.30,235.62 L155.50,235.62M156.20,235.62 L157.05,235.62 L157.20,235.62M157.90,235.61 L158.80,235.61 L158.90,235.61M159.60,235.61 L160.55,235.60 L160.60,235.60M161.30,235.60 L162.30,235.60 L162.30,235.60M163.00,235.59 L163.80,235.59 L164.00,235.59M164.70,235.59 L165.55,235.58 L165.70,235.58M166.40,235.58 L167.30,235.58 L167.40,235.58M168.10,235.57 L169.05,235.57 L169.10,235.57M169.80,235.57 L170.80,235.56 L170.80,235.56M171.50,235.56 L172.30,235.56 L172.50,235.55M173.20,235.55 L174.05,235.55 L174.20,235.55M174.90,235.54 L175.80,235.54 L175.90,235.54M176.60,235.54 L177.55,235.53 L177.60,235.53M178.30,235.53 L179.30,235.52 L179.30,235.52M180.00,235.52 L180.80,235.51 L181.00,235.51M181.70,235.51 L182.55,235.51 L182.70,235.50M183.40,235.50 L184.30,235.50 L184.40,235.50M185.10,235.49 L186.05,235.49 L186.10,235.49M186.80,235.48 L187.80,235.48 L187.80,235.48M188.50,235.47 L189.30,235.47 L189.50,235.47M190.20,235.46 L191.05,235.46 L191.20,235.46M191.90,235.45 L192.80,235.45 L192.90,235.45M193.60,235.44 L194.55,235.44 L194.60,235.44M195.30,235.43 L196.05,235.43 L196.30,235.42M197.00,235.42 L197.80,235.41 L198.00,235.41M198.70,235.41 L199.55,235.40 L199.70,235.40M200.40,235.40 L201.30,235.39 L201.40,235.39M202.10,235.39 L203.05,235.38 L203.10,235.38M203.80,235.37 L204.55,235.37 L204.80,235.37M205.50,235.36 L206.30,235.36 L206.50,235.35M207.20,235.35 L208.05,235.34 L208.20,235.34M208.90,235.34 L209.80,235.33 L209.90,235.33M210.60,235.32 L211.55,235.32 L211.60,235.32M212.30,235.31 L213.05,235.30 L213.30,235.30M214.00,235.30 L214.80,235.29 L215.00,235.29M215.70,235.28 L216.55,235.28 L216.70,235.27M217.40,235.27 L218.30,235.26 L218.40,235.26M219.10,235.25 L220.05,235.25 L220.10,235.25M220.80,235.24 L221.55,235.23 L221.80,235.23M222.50,235.23 L223.30,235.22 L223.50,235.22M224.20,235.21 L225.05,235.20 L225.20,235.20M225.90,235.20 L226.80,235.19 L226.90,235.19M227.60,235.18 L228.55,235.17 L228.60,235.17M229.30,235.16 L230.05,235.16 L230.30,235.15M231.00,235.15 L231.80,235.14 L232.00,235.14M232.70,235.13 L233.55,235.12 L233.70,235.12M234.40,235.11 L235.30,235.11 L235.40,235.11M236.10,235.10 L237.05,235.09 L237.10,235.09M237.80,235.08 L238.55,235.07 L238.80,235.07M239.50,235.06 L240.30,235.06 L240.50,235.05M241.20,235.05 L242.05,235.04 L242.20,235.04M242.90,235.03 L243.80,235.02 L243.90,235.02M244.60,235.01 L245.55,235.00 L245.60,235.00M246.30,234.99 L247.05,234.98 L247.30,234.98M248.00,234.97 L248.80,234.96 L249.00,234.96M249.70,234.95 L250.55,234.94 L250.70,234.94M251.40,234.93 L252.30,234.92 L252.40,234.92M253.10,234.91 L254.05,234.90 L254.10,234.90M254.80,234.89 L255.55,234.88 L255.80,234.88M256.50,234.87 L257.30,234.86 L257.50,234.86M258.20,234.85 L259.05,234.84 L259.20,234.84M259.90,234.83 L260.80,234.82 L260.90,234.82M261.60,234.81 L262.55,234.80 L262.60,234.80M263.30,234.79 L264.05,234.78 L264.30,234.78M265.00,234.77 L265.80,234.76 L266.00,234.75M266.70,234.75 L267.55,234.73 L267.70,234.73M268.40,234.72 L269.30,234.71 L269.40,234.71M270.10,234.70 L271.05,234.69 L271.10,234.69M271.80,234.68 L272.55,234.67 L272.80,234.66M273.50,234.65 L274.30,234.64 L274.50,234.64M275.20,234.63 L276.05,234.62 L276.20,234.62M276.90,234.61 L277.80,234.59 L277.90,234.59M278.60,234.58 L279.55,234.57 L279.60,234.57M280.30,234.56 L281.05,234.55 L281.30,234.54M282.00,234.53 L282.80,234.52 L283.00,234.52M283.70,234.51 L284.55,234.50 L284.70,234.49M285.40,234.48 L286.30,234.47 L286.40,234.47M287.10,234.46 L288.05,234.44 L288.10,234.44M288.80,234.43 L289.55,234.42 L289.80,234.42M290.50,234.40 L291.30,234.39 L291.50,234.39M292.20,234.38 L293.05,234.36 L293.20,234.36M293.90,234.35 L294.80,234.34 L294.90,234.33M295.60,234.32 L296.55,234.31 L296.60,234.31M297.30,234.30 L298.05,234.28 L298.30,234.28M299.00,234.27 L299.80,234.25 L300.00,234.25M300.70,234.24 L301.55,234.23 L301.70,234.22M302.40,234.21 L303.30,234.20 L303.40,234.19M304.10,234.18 L305.05,234.17 L305.10,234.16M305.80,234.15 L306.55,234.14 L306.80,234.14M307.50,234.12 L308.30,234.11 L308.50,234.11M309.20,234.09 L310.05,234.08 L310.20,234.08M310.90,234.06 L311.80,234.05 L311.90,234.04M312.60,234.03 L313.55,234.01 L313.60,234.01M314.30,234.00 L315.05,233.99 L315.30,233.98M316.00,233.97 L316.80,233.95 L317.00,233.95M317.70,233.94 L318.55,233.92 L318.70,233.92M319.40,233.91 L320.30,233.89 L320.40,233.89M321.10,233.87 L322.05,233.86 L322.10,233.85M322.80,233.84 L323.55,233.83 L323.80,233.82M324.50,233.81 L325.30,233.79 L325.50,233.79M326.20,233.77 L327.05,233.76 L327.20,233.75M327.90,233.74 L328.80,233.72 L328.90,233.72M329.60,233.71 L330.55,233.69 L330.60,233.69M331.30,233.67 L332.05,233.66 L332.30,233.65M333.00,233.64 L333.80,233.62 L334.00,233.62M334.70,233.60 L335.55,233.58 L335.70,233.58M336.40,233.57 L337.30,233.55 L337.40,233.54M338.10,233.53 L339.05,233.51 L339.10,233.51M339.80,233.49 L340.55,233.48 L340.80,233.47M341.50,233.46 L342.30,233.44 L342.50,233.44M343.20,233.42 L344.05,233.40 L344.20,233.40M344.90,233.38 L345.80,233.36 L345.90,233.36M346.60,233.35 L347.55,233.32 L347.60,233.32M348.30,233.31 L349.05,233.29 L349.30,233.28M350.00,233.27 L350.80,233.25 L351.00,233.25M351.70,233.23 L352.55,233.21 L352.70,233.21M353.40,233.19 L354.30,233.17 L354.40,233.17M355.10,233.15 L356.05,233.13 L356.10,233.13M356.80,233.11 L357.55,233.09 L357.80,233.09M358.50,233.07 L359.30,233.05 L359.50,233.05M360.20,233.03 L361.05,233.01 L361.20,233.01M361.90,232.99 L362.80,232.97 L362.90,232.96M363.60,232.95 L364.55,232.92 L364.60,232.92M365.30,232.91 L366.05,232.89 L366.30,232.88M367.00,232.86 L367.80,232.84 L368.00,232.84M368.70,232.82 L369.55,232.80 L369.70,232.80M370.40,232.78 L371.30,232.75 L371.40,232.75M372.10,232.73 L373.05,232.71 L373.10,232.71M373.80,232.69 L374.55,232.67 L374.80,232.66M375.50,232.65 L376.30,232.63 L376.50,232.62M377.20,232.60 L377.30,232.60 L377.40,232.60" stroke="#ff8000" stroke-width="1.30"/>
<path d="M42.30,235.22 L43.30,235.20 L44.30,235.18 L45.30,235.16 L46.00,235.14M47.10,235.12 L48.00,235.10M49.10,235.08 L50.05,235.06 L51.05,235.04 L52.05,235.01 L52.80,235.00M53.90,234.97 L54.80,234.95 L54.80,234.95M55.90,234.92 L56.80,234.90 L57.80,234.88 L58.80,234.85 L59.60,234.83M60.70,234.80 L61.55,234.78 L61.60,234.78M62.70,234.75 L63.55,234.72 L64.55,234.70 L65.55,234.67 L66.40,234.64M67.50,234.61 L68.30,234.59 L68.40,234.59M69.50,234.55 L70.30,234.53 L71.30,234.50 L72.30,234.47 L73.20,234.44M74.30,234.41 L75.20,234.38M76.30,234.34 L77.30,234.31 L78.30,234.28 L79.30,234.25 L80.00,234.22M81.10,234.19 L82.00,234.16M83.10,234.12 L84.05,234.09 L85.05,234.05 L86.05,234.02 L86.80,233.99M87.90,233.95 L88.80,233.92M89.90,233.88 L90.80,233.84 L91.80,233.81 L92.80,233.77 L93.60,233.74M94.70,233.70 L95.55,233.67 L95.60,233.66M96.70,233.62 L97.55,233.59 L98.55,233.55 L99.55,233.51 L100.40,233.48M101.50,233.43 L102.30,233.40 L102.40,233.40M103.50,233.35 L104.30,233.32 L105.30,233.28 L106.30,233.24 L107.20,233.20M108.30,233.15 L109.05,233.12 L109.20,233.12M110.30,233.07 L111.05,233.04 L112.05,233.00 L113.05,232.95 L114.00,232.91M115.10,232.86 L116.00,232.82M117.10,232.78 L118.05,232.73 L119.05,232.69 L120.05,232.64 L120.80,232.61M121.90,232.56 L122.80,232.52M123.90,232.47 L124.80,232.43 L125.80,232.38 L126.80,232.34 L127.60,232.30M128.70,232.25 L129.55,232.21 L129.60,232.20M130.70,232.15 L131.55,232.11 L132.55,232.06 L133.55,232.02 L134.40,231.98M135.50,231.92 L136.30,231.88 L136.40,231.88M137.50,231.83 L138.30,231.79 L139.30,231.74 L140.30,231.69 L141.20,231.64M142.30,231.59 L143.05,231.55 L143.20,231.54M144.30,231.49 L145.05,231.45 L146.05,231.40 L147.05,231.35 L148.00,231.30M149.10,231.25 L150.00,231.20M151.10,231.15 L152.05,231.10 L153.05,231.05 L154.05,230.99 L154.80,230.96M155.90,230.90 L156.80,230.85M157.90,230.79 L158.80,230.75 L159.80,230.69 L160.80,230.64 L161.60,230.60M162.70,230.54 L163.55,230.50 L163.60,230.49M164.70,230.44 L165.55,230.39 L166.55,230.34 L167.55,230.28 L168.40,230.24M169.50,230.18 L170.30,230.14 L170.40,230.13M171.50,230.07 L172.30,230.03 L173.30,229.97 L174.30,229.92 L175.20,229.87M176.30,229.81 L177.05,229.77 L177.20,229.76M178.30,229.70 L179.05,229.66 L180.05,229.60 L181.05,229.55 L182.00,229.50M183.10,229.44 L184.00,229.39M185.10,229.33 L186.05,229.27 L187.05,229.22 L188.05,229.16 L188.80,229.12M189.90,229.06 L190.80,229.01M191.90,228.95 L192.80,228.90 L193.80,228.84 L194.80,228.79 L195.60,228.74M196.70,228.68 L197.55,228.63 L197.60,228.63M198.70,228.57 L199.55,228.52 L200.55,228.46 L201.55,228.41 L202.40,228.36M203.50,228.30 L204.30,228.25 L204.40,228.25M205.50,228.18 L206.30,228.14 L207.30,228.08 L208.30,228.03 L209.20,227.97M210.30,227.91 L211.20,227.86M212.30,227.80 L213.30,227.74 L214.30,227.69 L215.30,227.63 L216.00,227.59M217.10,227.53 L218.00,227.48M219.10,227.41 L220.05,227.36 L221.05,227.30 L222.05,227.25 L222.80,227.20M223.90,227.14 L224.80,227.09 L224.80,227.09M225.90,227.03 L226.80,226.98 L227.80,226.92 L228.80,226.86 L229.60,226.82M230.70,226.76 L231.55,226.71 L231.60,226.71M232.70,226.64 L233.55,226.60 L234.55,226.54 L235.55,226.48 L236.40,226.44M237.50,226.37 L238.30,226.33 L238.40,226.32M239.50,226.26 L240.30,226.22 L241.30,226.16 L242.30,226.11 L243.20,226.06M244.30,225.99 L245.20,225.94M246.30,225.88 L247.30,225.83 L248.30,225.77 L249.30,225.72 L250.00,225.68M251.10,225.62 L252.00,225.57M253.10,225.51 L254.05,225.45 L255.05,225.40 L256.05,225.34 L256.80,225.30M257.90,225.24 L258.80,225.19 L258.80,225.19M259.90,225.13 L260.80,225.08 L261.80,225.03 L262.80,224.97 L263.60,224.93M264.70,224.87 L265.55,224.83 L265.60,224.82M266.70,224.76 L267.55,224.72 L268.55,224.67 L269.55,224.61 L270.40,224.57M271.50,224.51 L272.30,224.47 L272.40,224.46M273.50,224.40 L274.30,224.36 L275.30,224.31 L276.30,224.25 L277.20,224.21M278.30,224.15 L279.20,224.10M280.30,224.05 L281.30,223.99 L282.30,223.94 L283.30,223.89 L284.00,223.85M285.10,223.80 L286.00,223.75M287.10,223.70 L288.05,223.65 L289.05,223.60 L290.05,223.55 L290.80,223.51M291.90,223.45 L292.80,223.41 L292.80,223.41M293.90,223.36 L294.80,223.31 L295.80,223.26 L296.80,223.21 L297.60,223.17M298.70,223.12 L299.55,223.08 L299.60,223.08M300.70,223.02 L301.55,222.98 L302.55,222.93 L303.55,222.89 L304.40,222.85M305.50,222.79 L306.30,222.76 L306.40,222.75M307.50,222.70 L308.30,222.66 L309.30,222.62 L310.30,222.57 L311.20,222.53M312.30,222.48 L313.20,222.44M314.30,222.39 L315.30,222.34 L316.30,222.30 L317.30,222.25 L318.00,222.22M319.10,222.17 L320.00,222.13M321.10,222.08 L322.05,222.04 L323.05,222.00 L324.05,221.96 L324.80,221.92M325.90,221.88 L326.80,221.84 L326.80,221.84M327.90,221.79 L328.80,221.76 L329.80,221.71 L330.80,221.67 L331.60,221.64M332.70,221.60 L333.55,221.56 L333.60,221.56M334.70,221.52 L335.55,221.48 L336.55,221.44 L337.55,221.40 L338.40,221.37M339.50,221.33 L340.30,221.30 L340.40,221.29M341.50,221.25 L342.30,221.22 L343.30,221.18 L344.30,221.15 L345.20,221.11M346.30,221.07 L347.20,221.04M348.30,221.00 L349.30,220.96 L350.30,220.93 L351.30,220.89 L352.00,220.87M353.10,220.83 L354.00,220.80M355.10,220.76 L356.05,220.73 L357.05,220.70 L358.05,220.67 L358.80,220.64M359.90,220.61 L360.80,220.58 L360.80,220.58M361.90,220.54 L362.80,220.52 L363.80,220.49 L364.80,220.45 L365.60,220.43M366.70,220.40 L367.55,220.37 L367.60,220.37M368.70,220.34 L369.55,220.32 L370.55,220.29 L371.55,220.26 L372.40,220.24M373.50,220.21 L374.30,220.18 L374.40,220.18M375.50,220.15 L376.30,220.13 L377.30,220.11 L377.40,220.10" stroke="#8000ff" stroke-width="1.50"/>
<path d="M43.80,12.77 L45.30,14.73 L46.80,16.73 L48.30,18.76 L49.80,20.80 L51.30,22.88 L52.80,24.97 L54.30,27.08 L55.80,29.21 L57.30,31.35 L58.80,33.50 L60.30,35.67 L61.80,37.84 L63.30,40.02 L64.80,42.20 L66.30,44.39 L67.80,46.57 L69.30,48.75 L70.80,50.93 L72.30,53.10 L73.80,55.26 L75.30,57.41 L76.80,59.55 L78.30,61.67 L79.80,63.78 L81.30,65.87 L82.80,67.94 L84.30,69.99 L85.80,72.01 L87.30,74.01 L88.80,75.99 L90.30,77.94 L91.80,79.87 L93.30,81.77 L94.80,83.64 L96.30,85.47 L97.80,87.28 L99.30,89.06 L100.80,90.80 L102.30,92.50 L103.80,94.17 L105.30,95.80 L106.80,97.40 L108.30,98.96 L109.80,100.48 L111.30,101.97 L112.80,103.42 L114.30,104.84 L115.80,106.23 L117.30,107.59 L118.80,108.91 L120.30,110.20 L121.80,111.46 L123.30,112.69 L124.80,113.89 L126.30,115.07 L127.80,116.21 L129.30,117.33 L130.80,118.41 L132.30,119.47 L133.80,120.51 L135.30,121.52 L136.80,122.50 L138.30,123.46 L139.80,124.40 L141.30,125.31 L142.80,126.20 L144.30,127.06 L145.80,127.91 L147.30,128.73 L148.80,129.54 L150.30,130.32 L151.80,131.08 L153.30,131.83 L154.80,132.55 L156.30,133.26 L157.80,133.96 L159.30,134.63 L160.80,135.29 L162.30,135.93 L163.80,136.56 L165.30,137.18 L166.80,137.78 L168.30,138.37 L169.80,138.94 L171.30,139.51 L172.80,140.06 L174.30,140.60 L175.80,141.13 L177.30,141.65 L178.80,142.17 L180.30,142.67 L181.80,143.16 L183.30,143.65 L184.80,144.13 L186.30,144.59 L187.80,145.05 L189.30,145.50 L190.80,145.95 L192.30,146.38 L193.80,146.81 L195.30,147.22 L196.80,147.64 L198.30,148.04 L199.80,148.43 L201.30,148.82 L202.80,149.20 L204.30,149.58 L205.80,149.94 L207.30,150.30 L208.80,150.66 L210.30,151.01 L211.80,151.35 L213.30,151.68 L214.80,152.01 L216.30,152.33 L217.80,152.65 L219.30,152.96 L220.80,153.26 L222.30,153.56 L223.80,153.85 L225.30,154.14 L226.80,154.42 L228.30,154.70 L229.80,154.97 L231.30,155.24 L232.80,155.51 L234.30,155.76 L235.80,156.02 L237.30,156.27 L238.80,156.52 L240.30,156.76 L241.80,157.00 L243.30,157.23 L244.80,157.46 L246.30,157.69 L247.80,157.91 L249.30,158.13 L250.80,158.35 L252.30,158.57 L253.80,158.78 L255.30,158.99 L256.80,159.19 L258.30,159.40 L259.80,159.60 L261.30,159.80 L262.80,159.99 L264.30,160.19 L265.80,160.38 L267.30,160.57 L268.80,160.75 L270.30,160.93 L271.80,161.11 L273.30,161.29 L274.80,161.47 L276.30,161.64 L277.80,161.81 L279.30,161.98 L280.80,162.15 L282.30,162.31 L283.80,162.47 L285.30,162.63 L286.80,162.79 L288.30,162.94 L289.80,163.10 L291.30,163.25 L292.80,163.39 L294.30,163.54 L295.80,163.68 L297.30,163.83 L298.80,163.96 L300.30,164.10 L301.80,164.24 L303.30,164.37 L304.80,164.50 L306.30,164.63 L307.80,164.76 L309.30,164.88 L310.80,165.00 L312.30,165.13 L313.80,165.25 L315.30,165.36 L316.80,165.48 L318.30,165.59 L319.80,165.70 L321.30,165.81 L322.80,165.92 L324.30,166.03 L325.80,166.13 L327.30,166.23 L328.80,166.34 L330.30,166.44 L331.80,166.53 L333.30,166.63 L334.80,166.72 L336.30,166.82 L337.80,166.91 L339.30,167.00 L340.80,167.08 L342.30,167.17 L343.80,167.26 L345.30,167.34 L346.80,167.42 L348.30,167.50 L349.80,167.58 L351.30,167.66 L352.80,167.74 L354.30,167.81 L355.80,167.88 L357.30,167.96 L358.80,168.03 L360.30,168.10 L361.80,168.17 L363.30,168.23 L364.80,168.30 L366.30,168.36 L367.80,168.43 L369.30,168.49 L370.80,168.55 L372.30,168.61 L373.80,168.67 L375.30,168.73 L376.80,168.78 L377.40,168.80" stroke="#008000" stroke-width="1.90"/>
</g>
<g class="t" font-size="10.3" fill="#1c1c1c">
<text x="37.6" y="238.75" text-anchor="end">0</text>
<text x="37.6" y="185.62" text-anchor="end">1000</text>
<text x="37.6" y="132.49" text-anchor="end">2000</text>
<text x="37.6" y="79.36" text-anchor="end">3000</text>
<text x="37.6" y="26.23" text-anchor="end">4000</text>
<text x="41.95" y="251.8" text-anchor="middle">0.0</text>
<text x="125.76" y="251.8" text-anchor="middle">0.5</text>
<text x="209.57" y="251.8" text-anchor="middle">1.0</text>
<text x="293.39" y="251.8" text-anchor="middle">1.5</text>
<text x="377.20" y="251.8" text-anchor="middle">2.0</text>
<text transform="translate(12.4,125.5) rotate(-90)" text-anchor="middle" font-size="11.2">S (keV b)</text>
<text x="186.5" y="266.6" font-size="10.8">E<tspan font-size="6.7" dy="5.3" fill="#333">cm</tspan><tspan dy="-5.3"> (MeV)</tspan></text>
<path d="M316.70,18.80H340.90" stroke="#000000" stroke-width="1.20" fill="none"/>
<text x="342.3" y="22.30">0<tspan font-size="6.2" dy="-5">−</tspan></text>
<path d="M316.70,33.90 L317.10,33.90 L317.50,33.90 L317.90,33.90 L318.30,33.90 L318.70,33.90 L319.10,33.90 L319.50,33.90 L319.90,33.90 L320.30,33.90 L320.70,33.90 L321.10,33.90 L321.50,33.90M326.45,33.90 L326.80,33.90 L327.20,33.90 L327.60,33.90 L328.00,33.90 L328.40,33.90 L328.80,33.90 L329.20,33.90 L329.60,33.90 L330.00,33.90 L330.40,33.90 L330.80,33.90 L331.20,33.90 L331.25,33.90M336.20,33.90 L336.50,33.90 L336.90,33.90 L337.30,33.90 L337.70,33.90 L338.10,33.90 L338.50,33.90 L338.90,33.90 L339.30,33.90 L339.70,33.90 L340.10,33.90 L340.50,33.90 L340.90,33.90" stroke="#ff0000" stroke-width="1.50" fill="none"/>
<text x="342.3" y="37.40">0<tspan font-size="6.2" dy="-5">+</tspan></text>
<path d="M317.60,48.90 L318.00,48.90 L318.40,48.90 L318.80,48.90 L319.05,48.90M323.35,48.90 L323.70,48.90 L324.10,48.90 L324.50,48.90 L324.80,48.90M329.10,48.90 L329.40,48.90 L329.80,48.90 L330.20,48.90 L330.55,48.90M334.85,48.90 L335.20,48.90 L335.60,48.90 L336.00,48.90 L336.30,48.90" stroke="#0000ff" stroke-width="1.50" fill="none"/>
<text x="342.3" y="52.40">1<tspan font-size="6.2" dy="-5">−</tspan></text>
<path d="M316.70,63.90 L317.10,63.90 L317.50,63.90 L317.90,63.90 L318.30,63.90 L318.70,63.90 L319.10,63.90 L319.50,63.90 L319.90,63.90 L320.30,63.90 L320.70,63.90 L321.10,63.90 L321.50,63.90 L321.90,63.90 L322.30,63.90 L322.70,63.90 L323.10,63.90 L323.20,63.90M325.40,63.90 L325.70,63.90 L326.10,63.90 L326.50,63.90 L326.70,63.90M328.90,63.90 L329.20,63.90 L329.60,63.90 L330.00,63.90 L330.40,63.90 L330.80,63.90 L331.20,63.90 L331.60,63.90 L332.00,63.90 L332.40,63.90 L332.80,63.90 L333.20,63.90 L333.60,63.90 L334.00,63.90 L334.40,63.90 L334.80,63.90 L335.20,63.90 L335.40,63.90M337.60,63.90 L337.90,63.90 L338.30,63.90 L338.70,63.90 L338.90,63.90" stroke="#00ffff" stroke-width="1.50" fill="none"/>
<text x="342.3" y="67.40">1<tspan font-size="6.2" dy="-5">+</tspan></text>
<path d="M316.70,79.30 L317.10,79.30 L317.50,79.30 L317.90,79.30 L318.30,79.30 L318.70,79.30 L319.10,79.30 L319.50,79.30 L319.90,79.30 L320.30,79.30 L320.70,79.30 L321.10,79.30 L321.50,79.30 L321.90,79.30M324.00,79.30 L324.30,79.30 L324.70,79.30 L325.10,79.30 L325.20,79.30M327.70,79.30 L328.00,79.30 L328.40,79.30 L328.80,79.30 L328.90,79.30M331.08,79.30 L331.40,79.30 L331.80,79.30 L332.20,79.30 L332.60,79.30 L333.00,79.30 L333.40,79.30 L333.80,79.30 L334.20,79.30 L334.60,79.30 L335.00,79.30 L335.40,79.30 L335.80,79.30 L336.20,79.30 L336.28,79.30M338.38,79.30 L338.70,79.30 L339.10,79.30 L339.50,79.30 L339.58,79.30" stroke="#ff00ff" stroke-width="1.50" fill="none"/>
<text x="342.3" y="82.80">2<tspan font-size="6.2" dy="-5">−</tspan></text>
<path d="M316.70,94.50 L317.10,94.50 L317.50,94.50 L317.90,94.50 L318.30,94.50 L318.70,94.50 L319.10,94.50 L319.50,94.50 L319.60,94.50M321.10,94.50 L321.40,94.50 L321.80,94.50 L322.20,94.50 L322.60,94.50 L323.00,94.50 L323.40,94.50 L323.80,94.50 L324.00,94.50M325.50,94.50 L325.80,94.50 L326.20,94.50 L326.60,94.50 L327.00,94.50 L327.40,94.50 L327.80,94.50 L328.20,94.50 L328.40,94.50M329.90,94.50 L330.20,94.50 L330.60,94.50 L331.00,94.50 L331.40,94.50 L331.80,94.50 L332.20,94.50 L332.60,94.50 L332.80,94.50M334.30,94.50 L334.60,94.50 L335.00,94.50 L335.40,94.50 L335.80,94.50 L336.20,94.50 L336.60,94.50 L337.00,94.50 L337.20,94.50M338.70,94.50 L339.00,94.50 L339.40,94.50 L339.80,94.50 L340.20,94.50 L340.60,94.50 L340.90,94.50" stroke="#808000" stroke-width="1.30" fill="none"/>
<text x="342.3" y="98.00">2<tspan font-size="6.2" dy="-5">+</tspan></text>
<path d="M316.70,109.50 L317.10,109.50 L317.50,109.50 L317.70,109.50M318.40,109.50 L318.70,109.50 L319.10,109.50 L319.40,109.50M320.10,109.50 L320.40,109.50 L320.80,109.50 L321.10,109.50M321.80,109.50 L322.10,109.50 L322.50,109.50 L322.80,109.50M323.50,109.50 L323.80,109.50 L324.20,109.50 L324.50,109.50M325.20,109.50 L325.50,109.50 L325.90,109.50 L326.20,109.50M326.90,109.50 L327.20,109.50 L327.60,109.50 L327.90,109.50M328.60,109.50 L328.90,109.50 L329.30,109.50 L329.60,109.50M330.30,109.50 L330.60,109.50 L331.00,109.50 L331.30,109.50M332.00,109.50 L332.30,109.50 L332.70,109.50 L333.00,109.50M333.70,109.50 L334.00,109.50 L334.40,109.50 L334.70,109.50M335.40,109.50 L335.70,109.50 L336.10,109.50 L336.40,109.50M337.10,109.50 L337.40,109.50 L337.80,109.50 L338.10,109.50M338.80,109.50 L339.10,109.50 L339.50,109.50 L339.80,109.50M340.50,109.50 L340.80,109.50 L340.90,109.50" stroke="#ff8000" stroke-width="1.30" fill="none"/>
<text x="342.3" y="113.00">3<tspan font-size="6.2" dy="-5">−</tspan></text>
<path d="M316.70,124.65 L317.10,124.65 L317.50,124.65 L317.90,124.65 L318.30,124.65 L318.70,124.65 L319.10,124.65 L319.50,124.65 L319.90,124.65 L320.30,124.65 L320.40,124.65M321.50,124.65 L321.80,124.65 L322.20,124.65 L322.40,124.65M323.50,124.65 L323.80,124.65 L324.20,124.65 L324.60,124.65 L325.00,124.65 L325.40,124.65 L325.80,124.65 L326.20,124.65 L326.60,124.65 L327.00,124.65 L327.20,124.65M328.30,124.65 L328.60,124.65 L329.00,124.65 L329.20,124.65M330.30,124.65 L330.60,124.65 L331.00,124.65 L331.40,124.65 L331.80,124.65 L332.20,124.65 L332.60,124.65 L333.00,124.65 L333.40,124.65 L333.80,124.65 L334.00,124.65M335.10,124.65 L335.40,124.65 L335.80,124.65 L336.00,124.65M337.10,124.65 L337.40,124.65 L337.80,124.65 L338.20,124.65 L338.60,124.65 L339.00,124.65 L339.40,124.65 L339.80,124.65 L340.20,124.65 L340.60,124.65 L340.80,124.65" stroke="#8000ff" stroke-width="1.50" fill="none"/>
<text x="342.3" y="128.15">3<tspan font-size="6.2" dy="-5">+</tspan></text>
<path d="M316.70,137.30H340.90" stroke="#008000" stroke-width="1.90" fill="none"/>
<text x="342.3" y="141.50">(d,p<tspan font-size="6" dy="3.7" fill="#444">0</tspan><tspan dy="-3.7">)</tspan></text>
</g>
</svg></body></html>
